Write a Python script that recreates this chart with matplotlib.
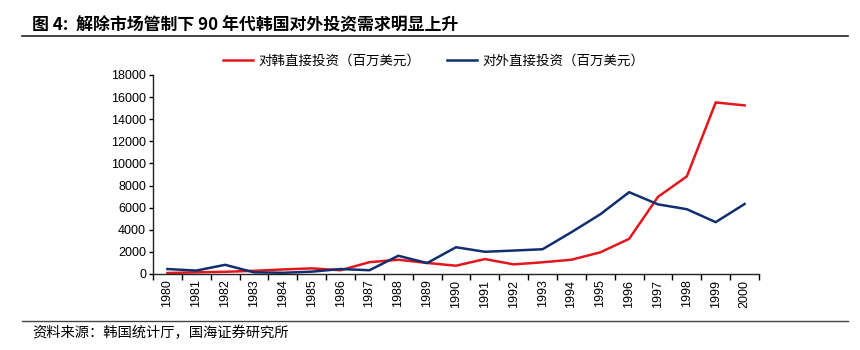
import numpy as np
import matplotlib.pyplot as plt
from matplotlib.lines import Line2D

plt.rcParams['font.family'] = ['Liberation Sans', 'Noto Sans CJK SC', 'DejaVu Sans']

years = [str(y) for y in range(1980, 2001)]
# 对韩直接投资（百万美元）
fdi_in = [90, 150, 200, 290, 410, 510, 340, 1070, 1290, 1000, 750, 1350, 870,
          1060, 1290, 1960, 3180, 6980, 8830, 15520, 15250]
# 对外直接投资（百万美元）
fdi_out = [450, 310, 830, 150, 110, 210, 450, 340, 1650, 990, 2420, 2010, 2120,
           2240, 3780, 5400, 7400, 6300, 5860, 4690, 6330]

red = '#e3161b'
navy = '#112f6e'

fig = plt.figure(figsize=(8.6, 3.5), dpi=100)
ax = fig.add_axes([153/860, 1-274/350, (759-153)/860, (274-75)/350])

x = np.arange(len(years))
ax.plot(x, fdi_in, color=red, lw=1.8)
ax.plot(x, fdi_out, color=navy, lw=1.8)

ax.set_xlim(-0.5, len(years) - 0.5)
ax.set_ylim(0, 18000)
ax.set_yticks(np.arange(0, 18001, 2000))
ax.set_xticks(x)
ax.set_xticklabels(years, rotation=90)
ax.set_xticks(np.arange(-0.5, len(years), 1), minor=True)
ax.tick_params(axis='x', which='major', length=0, pad=4, labelsize=9)
ax.tick_params(axis='x', which='minor', length=4, width=1, direction='out')
ax.tick_params(axis='y', length=3, width=1, direction='out', labelsize=9, pad=2)
for s in ['top', 'right']:
    ax.spines[s].set_visible(False)
for s in ['left', 'bottom']:
    ax.spines[s].set_linewidth(1)
    ax.spines[s].set_color('#222222')

cjk = ['Noto Sans CJK SC', 'DejaVu Sans']
handles = [Line2D([], [], color=red, lw=1.8), Line2D([], [], color=navy, lw=1.8)]
fig.legend(handles, ['对韩直接投资（百万美元）', '对外直接投资（百万美元）'],
           loc='center', bbox_to_anchor=(434/860, 1-61/350), ncol=2, frameon=False,
           prop={'family': cjk, 'size': 9.7}, handlelength=2.2, handletextpad=0.4,
           columnspacing=2.0)

fig.text(32/860, 1-25/350, '图 4:  解除市场管制下 90 年代韩国对外投资需求明显上升',
         family=cjk, fontsize=12.2, fontweight='bold', va='center', ha='left')
fig.add_artist(Line2D([22/860, 848/860], [1-36/350, 1-36/350], color='#222222', lw=1.2))
fig.add_artist(Line2D([22/860, 848/860], [1-321/350, 1-321/350], color='#444444', lw=1))
fig.text(32/860, 1-333/350, '资料来源：韩国统计厅，国海证券研究所',
         family=cjk, fontsize=10.3, va='center', ha='left')

fig.savefig('out.png', dpi=100)
